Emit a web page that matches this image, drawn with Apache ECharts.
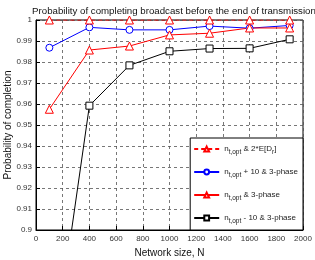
<!DOCTYPE html>
<html>
<head>
<meta charset="utf-8">
<script src="https://cdn.jsdelivr.net/npm/echarts@6/dist/echarts.min.js"></script>
<style>
  html, body { margin: 0; padding: 0; background: #fff; }
  #chart { width: 315px; height: 260px; }
</style>
</head>
<body>
<div id="chart"></div>
<script>
var sizes = [100, 400, 700, 1000, 1300, 1600, 1900];

var bound2ED = [1, 1, 1, 1, 1, 1, 1];
var plus10 = [0.9868, 0.9965, 0.9953, 0.9953, 0.9971, 0.9961, 0.9974];
var plain3 = [0.9575, 0.9857, 0.9876, 0.9929, 0.9937, 0.9962, 0.9962];
var minus10 = [0.826, 0.9592, 0.9784, 0.9851, 0.9864, 0.9865, 0.9908];

// legend text: n_{t,opt} + suffix (with optional subscript pieces)
var legendText = {
    a: '{t|n}{s|t,opt}{t| & 2*E[D}{s|r}{t|]}',
    b: '{t|n}{s|t,opt}{t| + 10 & 3-phase}',
    c: '{t|n}{s|t,opt}{t| & 3-phase}',
    d: '{t|n}{s|t,opt}{t| - 10 & 3-phase}'
};

function pts(ys) {
    return ys.map(function (y, i) { return [sizes[i], y]; });
}

var font = 'Liberation Sans, Arial, sans-serif';

var chart = echarts.init(document.getElementById('chart'));

chart.setOption({
    animation: false,
    backgroundColor: '#fff',
    title: {
        text: 'Probability of completing broadcast before the end of transmission',
        left: 169, textAlign: 'center',
        top: 1,
        textStyle: { fontSize: 9.7, fontWeight: 'normal', color: '#111', fontFamily: font }
    },
    grid: {
        left: 36, right: 12, top: 20, bottom: 30,
        outerBoundsMode: 'none', containLabel: false,
        show: true, borderColor: '#000', borderWidth: 1
    },
    legend: {
        orient: 'vertical',
        right: 12,
        bottom: 30,
        backgroundColor: '#fff',
        borderColor: '#000',
        borderWidth: 1,
        padding: [7, 5, 5, 3],
        itemWidth: 25,
        itemHeight: 6,
        itemGap: 12,
        formatter: function (name) { return legendText[name]; },
        textStyle: {
            rich: {
                t: { fontSize: 8, color: '#222', fontFamily: font },
                s: { fontSize: 6.5, color: '#222', fontFamily: font, padding: [7, 0, 0, 0] }
            }
        },
        data: ['a', 'b', 'c', 'd']
    },
    xAxis: {
        type: 'value',
        min: 0, max: 2000, interval: 200,
        name: 'Network size, N',
        nameLocation: 'middle',
        nameGap: 15,
        nameTextStyle: { fontSize: 10, color: '#111', fontFamily: font },
        axisLine: { lineStyle: { color: '#000' } },
        axisTick: { inside: true, length: 4, lineStyle: { color: '#000' } },
        axisLabel: {
            fontSize: 8, color: '#333', margin: 5, fontFamily: font, hideOverlap: false,
            formatter: function (v) { return String(v); }
        },
        splitLine: { lineStyle: { color: '#555', type: [3, 3], width: 0.8 } }
    },
    yAxis: {
        type: 'value',
        min: 0.9, max: 1, interval: 0.01,
        name: 'Probability of completion',
        nameLocation: 'middle',
        nameGap: 23,
        nameMoveOverlap: false,
        nameTextStyle: { fontSize: 10, color: '#111', fontFamily: font },
        axisLine: { lineStyle: { color: '#000' } },
        axisTick: { inside: true, length: 4, lineStyle: { color: '#000' } },
        axisLabel: {
            fontSize: 8, color: '#333', margin: 4, fontFamily: font,
            formatter: function (v) { return String(+v.toFixed(2)); }
        },
        splitLine: { lineStyle: { color: '#555', type: [3, 3], width: 0.8 } }
    },
    series: [
        {
            name: 'a', type: 'line', data: pts(bound2ED),
            symbol: 'triangle', symbolSize: 8, showAllSymbol: true,
            itemStyle: { color: '#fff', borderColor: '#f00', borderWidth: 1 },
            lineStyle: { color: '#f00', width: 1, type: [4, 3] },
            z: 4
        },
        {
            name: 'b', type: 'line', data: pts(plus10),
            symbol: 'circle', symbolSize: 7,
            itemStyle: { color: '#fff', borderColor: '#00f', borderWidth: 1 },
            lineStyle: { color: '#00f', width: 1 },
            z: 3
        },
        {
            name: 'c', type: 'line', data: pts(plain3),
            symbol: 'triangle', symbolSize: 8,
            itemStyle: { color: '#fff', borderColor: '#f00', borderWidth: 1 },
            lineStyle: { color: '#f00', width: 1 },
            z: 3
        },
        {
            name: 'd', type: 'line', data: pts(minus10),
            symbol: 'rect', symbolSize: 7,
            itemStyle: { color: '#fff', borderColor: '#000', borderWidth: 1 },
            lineStyle: { color: '#000', width: 1 },
            z: 3
        }
    ]
});
</script>
</body>
</html>
